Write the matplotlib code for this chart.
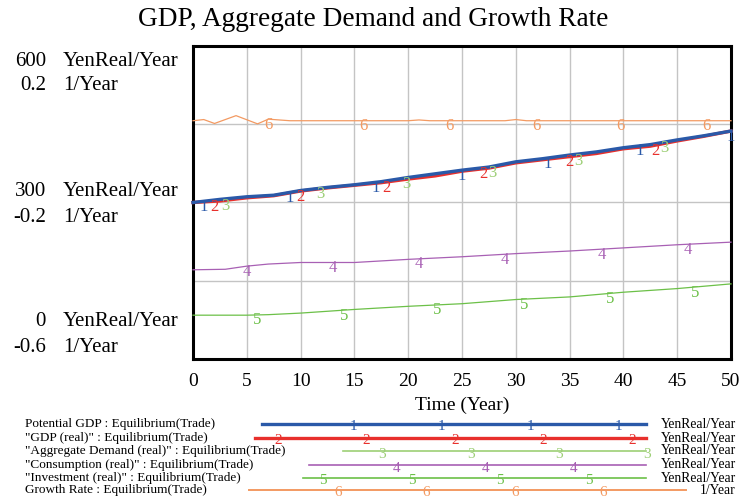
import numpy as np
import matplotlib
matplotlib.use("Agg")
import matplotlib.pyplot as plt
from matplotlib.lines import Line2D

plt.rcParams['font.family'] = ['Liberation Serif', 'DejaVu Serif']

# ---- data (Equilibrium(Trade) run) ----
t_gdp = [0, 2.5, 5, 7.5, 10, 12.5, 15, 17.5, 20, 22.5, 25, 27.5, 30, 32.5, 35, 37.5, 40, 42.5, 45, 47.5, 50]
potential_gdp = [300, 306, 311, 314, 323, 329, 334, 340, 348, 355, 362, 368, 378, 384, 391, 397, 405, 411, 420, 428, 437]
gdp_real = [300, 303, 309, 313, 322, 328, 333, 338, 345, 351, 360, 366, 376, 382, 388, 394, 403, 408, 418, 427, 437]
aggregate_demand = [300, 303, 309, 313, 322, 328, 333, 339, 346, 352, 361, 366, 377, 383, 389, 395, 404, 409, 419, 427, 437]

t_cons = [0, 3, 5, 7, 10, 15, 20, 25, 30, 35, 40, 45, 50]
consumption = [171, 172, 178, 182, 185, 185, 191, 196, 202, 207, 213, 219, 224]

t_inv = [0, 5, 7, 10, 15, 20, 25, 30, 35, 40, 45, 50]
investment = [84, 84, 85, 88, 95, 101, 106, 114, 119, 128, 135, 144]

t_growth = [0, 1, 2, 4, 6, 7, 8, 9, 20, 21, 22, 29, 30, 31, 50]
growth_rate = [0.009, 0.012, 0.002, 0.022, 0.001, 0.013, 0.011, 0.009, 0.009, 0.011, 0.009, 0.009, 0.012, 0.009, 0.009]

series_names = ['Potential GDP : Equilibrium(Trade)',
                '"GDP (real)" : Equilibrium(Trade)',
                '"Aggregate Demand (real)" : Equilibrium(Trade)',
                '"Consumption (real)" : Equilibrium(Trade)',
                '"Investment (real)" : Equilibrium(Trade)',
                'Growth Rate : Equilibrium(Trade)']
series_units = ['YenReal/Year'] * 5 + ['1/Year']
colors = ['#2a59a8', '#e8302c', '#9dcf76', '#a860b4', '#6cc048', '#f39a62']
widths = [2.4, 2.4, 0.9, 0.9, 0.9, 0.9]

# where the number tags sit along each curve (years)
tag_times = [[1, 9, 17, 25, 33, 41.5, 50],
             [2, 10, 18, 27, 35, 43],
             [3, 11.8, 19.8, 27.8, 35.8, 43.8],
             [5, 13, 21, 29, 38, 46],
             [6, 14, 22.7, 30.8, 38.8, 46.7],
             [7, 15.8, 23.8, 31.9, 39.7, 47.7]]

W, H = 742, 499
fig = plt.figure(figsize=(W / 100, H / 100), dpi=100)
ax = fig.add_axes([193 / W, 1 - 359 / H, (731 - 193) / W, (359 - 46) / H])
ax2 = ax.twinx()

ax.set_xlim(0, 50)
ax.set_ylim(0, 600)
ax2.set_ylim(-0.6, 0.2)
ax.set_xticks(np.arange(0, 51, 5))
ax.set_yticks([0, 150, 300, 450, 600])
ax.grid(True, color='#c4c4c4', linewidth=1.0)
ax.tick_params(length=0, labelleft=False, labelsize=14, pad=10)
ax.set_xlabel('Time (Year)', fontsize=14, labelpad=5)
for sp in ax.spines.values():
    sp.set_linewidth(2.2)
    sp.set_color('black')
ax2.axis('off')

curves = [(ax, t_gdp, potential_gdp), (ax, t_gdp, gdp_real), (ax, t_gdp, aggregate_demand),
          (ax, t_cons, consumption), (ax, t_inv, investment), (ax2, t_growth, growth_rate)]

# draw back to front so Potential GDP ends up on top
for i in [5, 4, 3, 2, 1, 0]:
    a, tx, vals = curves[i]
    a.plot(tx, vals, color=colors[i], linewidth=widths[i], clip_on=False, zorder=3 + (5 - i))
    for tt in tag_times[i]:
        a.annotate(str(i + 1), (tt, np.interp(tt, tx, vals)), xytext=(0, -4),
                   textcoords='offset points', ha='center', va='center',
                   color=colors[i], fontsize=12, zorder=10, annotation_clip=False)

# y-axis labels for both scales
left_labels = [(61, '600', 'YenReal/Year'), (86, '0.2', '1/Year'),
               (192, '300', 'YenReal/Year'), (217, '-0.2', '1/Year'),
               (322, '0', 'YenReal/Year'), (347, '-0.6', '1/Year')]
for y, num, unit in left_labels:
    fig.text(46 / W, 1 - y / H, num, ha='right', va='center', fontsize=15)
    fig.text(63 / W, 1 - y / H, unit, ha='left', va='center', fontsize=15)

fig.text(0.503, 1 - 20 / H, 'GDP, Aggregate Demand and Growth Rate',
         ha='center', va='center', fontsize=19.6)

# legend block below the plot
rows_y = [424, 438, 451, 465, 478, 490]
seg_x = [(262, 646), (255, 646), (343, 646), (309, 646), (303, 646), (249, 686)]
leg_tags = [[353, 441.5, 530, 618.5], [278, 366.5, 455, 543.5, 632],
            [382, 470.5, 559, 647.5], [397, 485.5, 574],
            [323, 411.5, 500, 588.5], [338, 426.5, 515, 603.5]]
leg_widths = [2.4, 2.4, 1.2, 1.2, 1.2, 1.4]
for i in range(6):
    y = 1 - rows_y[i] / H
    fig.text(25 / W, y, series_names[i], ha='left', va='center', fontsize=9.5)
    fig.text(736 / W, y, series_units[i], ha='right', va='center', fontsize=9.8)
    x0, x1 = seg_x[i]
    fig.add_artist(Line2D([x0 / W, x1 / W], [y, y], color=colors[i], linewidth=leg_widths[i]))
    for xt in leg_tags[i]:
        fig.text(xt / W, y - 3 / H, str(i + 1), ha='center', va='center', fontsize=11, color=colors[i])

fig.savefig('out.png', dpi=100)
